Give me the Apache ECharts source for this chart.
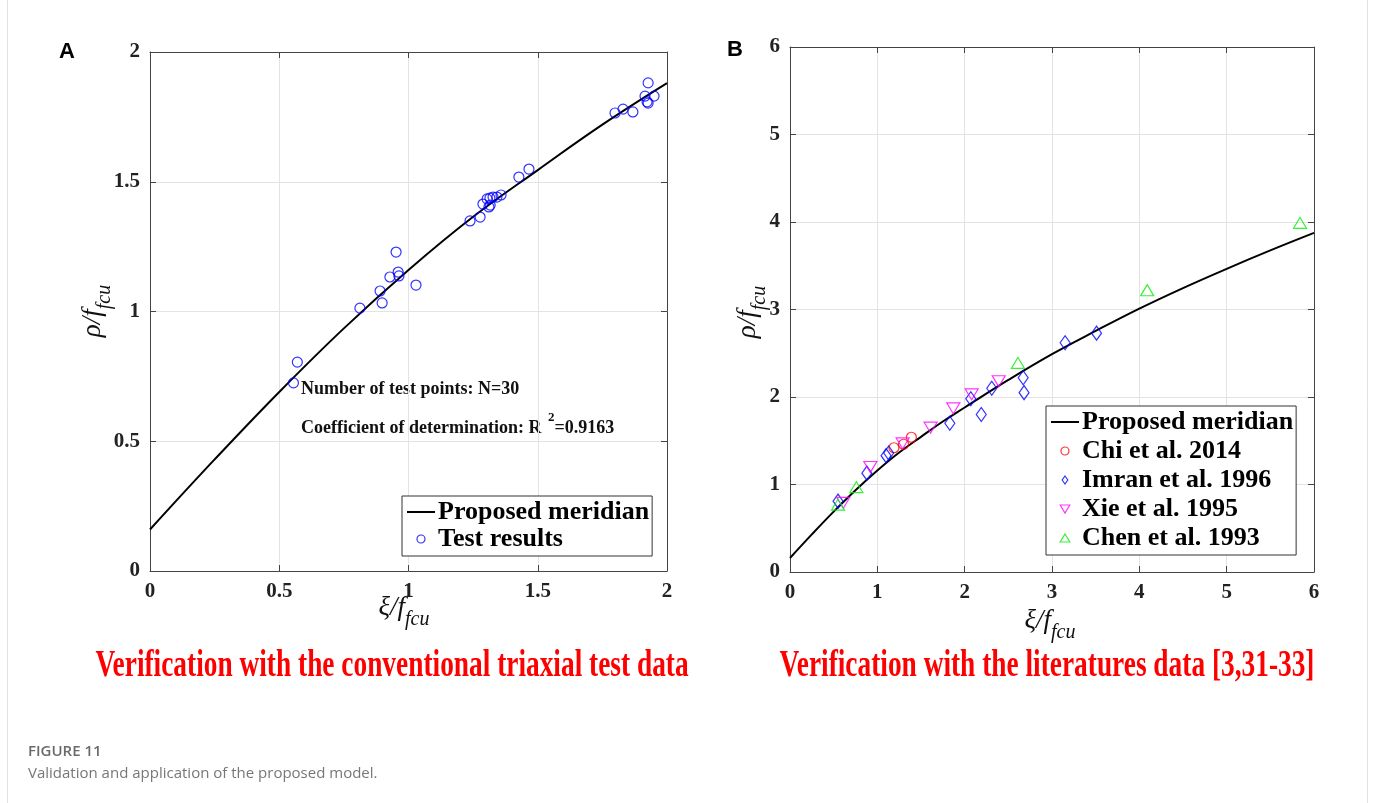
<!DOCTYPE html>
<html>
<head>
<meta charset="utf-8">
<script src="https://cdn.jsdelivr.net/npm/echarts@6/dist/echarts.min.js"></script>
<style>
    html, body { margin: 0; padding: 0; background: #fff; }
    #main { width: 1375px; height: 803px; }
</style>
</head>
<body>
<div id="main"></div>
<script>
    // 拟合子午线
    const meridianX = [0, 0.25, 0.5, 0.75, 1, 1.25, 1.5, 1.75, 2, 2.5, 3, 3.5, 4, 4.5, 5, 5.5, 6];
    const meridianY = [0.16, 0.43, 0.69, 0.935, 1.16, 1.365, 1.545, 1.72, 1.88, 2.195, 2.49, 2.755, 3.01, 3.245, 3.465, 3.675, 3.875];

    // A: 常规三轴试验点
    const testX = [0.555, 0.57, 0.812, 0.890, 0.898, 0.928, 0.952, 0.960, 0.963, 1.029,
        1.238, 1.277, 1.288, 1.304, 1.311, 1.316, 1.315, 1.327, 1.342, 1.358,
        1.427, 1.466, 1.799, 1.830, 1.868, 1.915, 1.923, 1.927, 1.927, 1.950];
    const testY = [0.725, 0.805, 1.013, 1.079, 1.033, 1.133, 1.229, 1.152, 1.137, 1.102,
        1.349, 1.364, 1.414, 1.434, 1.403, 1.410, 1.437, 1.441, 1.441, 1.449,
        1.518, 1.549, 1.765, 1.780, 1.769, 1.830, 1.808, 1.803, 1.881, 1.830];

    // B: 文献数据
    const chiX = [1.19, 1.30, 1.39];
    const chiY = [1.42, 1.46, 1.54];
    const imranX = [0.55, 0.88, 1.10, 1.13, 1.83, 2.07, 2.19, 2.31, 2.67, 2.68, 3.15, 3.51];
    const imranY = [0.81, 1.13, 1.33, 1.36, 1.70, 1.98, 1.80, 2.10, 2.22, 2.05, 2.62, 2.73];
    const xieX = [0.61, 0.92, 1.29, 1.61, 1.87, 2.08, 2.39];
    const xieY = [0.79, 1.20, 1.47, 1.65, 1.87, 2.03, 2.18];
    const chenX = [0.55, 0.76, 2.61, 4.09, 5.84];
    const chenY = [0.77, 0.97, 2.39, 3.22, 3.99];

    const ticksA = [0, 0.5, 1, 1.5, 2];
    const ticksB = [0, 1, 2, 3, 4, 5, 6];

    function pairs(xs, ys, maxX) {
        let out = [];
        for (let i = 0; i < xs.length; i++) {
            if (maxX == null || xs[i] <= maxX) out.push([xs[i], ys[i]]);
        }
        return out;
    }

    const serif = "'Liberation Serif', 'Times New Roman', serif";
    const frameColor = '#444';
    const triDown = 'path://M0,0L12,0L6,10Z';
    const triUp = 'path://M6,0L12,10L0,10Z';
    const diamond = 'path://M5,0L10,7L5,14L0,7Z';
    const lineIcon = 'path://M0,0L28,0L28,2L0,2Z';

    function mainAxis(grid, pos, ticks, showLabel) {
        return {
            type: 'value', gridIndex: grid, position: pos,
            min: ticks[0], max: ticks[ticks.length - 1], interval: ticks[1] - ticks[0],
            axisLine: { show: true, onZero: false, lineStyle: { color: frameColor, width: 1 } },
            axisTick: { show: true, inside: true, length: 6, lineStyle: { color: frameColor } },
            axisLabel: {
                show: showLabel, margin: 10,
                fontFamily: serif, fontWeight: 'bold', fontSize: 21, color: '#222'
            },
            splitLine: { show: showLabel, lineStyle: { color: '#e3e3e3', width: 1 } }
        };
    }

    function openStyle(color) {
        return { color: 'rgba(0,0,0,0)', borderColor: color, borderWidth: 1.2 };
    }

    // 坐标轴名（带下标）
    function axisName(x, y, sym, rot) {
        return {
            type: 'text', x: x, y: y, rotation: rot || 0,
            style: {
                text: '{m|' + sym + '/f}{s|fcu}',
                align: 'center', verticalAlign: 'middle',
                rich: {
                    m: { fontFamily: serif, fontStyle: 'italic', fontSize: 27, lineHeight: 36, fill: '#111', verticalAlign: 'top' },
                    s: { fontFamily: serif, fontStyle: 'italic', fontSize: 20, lineHeight: 20, fill: '#111', verticalAlign: 'bottom' }
                }
            }
        };
    }

    function legendBox(left, top, items, gap) {
        return {
            orient: 'vertical', left: left, top: top,
            data: items,
            backgroundColor: '#fff', borderColor: '#333', borderWidth: 1,
            padding: [3, 3, 4, 5], itemGap: gap, itemWidth: 28, itemHeight: 8,
            itemStyle: { borderWidth: 1.2 },
            textStyle: { fontFamily: serif, fontWeight: 'bold', fontSize: 26, color: '#000', padding: [0, 0, 0, -2] }
        };
    }

    const meridianItem = { name: 'Proposed meridian', icon: lineIcon, itemStyle: { color: '#000', borderWidth: 0 } };

    let dom = document.getElementById('main');
    let myChart = echarts.init(dom);

    let option = {
        backgroundColor: '#fff',
        animation: false,
        grid: [
            { left: 150, top: 52, width: 517, height: 519 },
            { left: 790, top: 47, width: 524, height: 525 }
        ],
        xAxis: [
            mainAxis(0, 'bottom', ticksA, true),
            mainAxis(0, 'top', ticksA, false),
            mainAxis(1, 'bottom', ticksB, true),
            mainAxis(1, 'top', ticksB, false)
        ],
        yAxis: [
            mainAxis(0, 'left', ticksA, true),
            mainAxis(0, 'right', ticksA, false),
            mainAxis(1, 'left', ticksB, true),
            mainAxis(1, 'right', ticksB, false)
        ],
        legend: [
            legendBox(402, 496, [meridianItem, { name: 'Test results', icon: 'circle' }], 1),
            legendBox(1046, 406, [
                meridianItem,
                { name: 'Chi et al. 2014', icon: 'circle' },
                { name: 'Imran et al. 1996', icon: diamond },
                { name: 'Xie et al. 1995', icon: triDown },
                { name: 'Chen et al. 1993', icon: triUp }
            ], 3)
        ],
        series: [{
            name: 'Proposed meridian', type: 'line', xAxisIndex: 0, yAxisIndex: 0,
            smooth: 0.4, symbol: 'none', z: 3,
            itemStyle: { color: '#000' },
            lineStyle: { color: '#000', width: 2 },
            data: pairs(meridianX, meridianY, 2)
        }, {
            name: 'Test results', type: 'scatter', xAxisIndex: 0, yAxisIndex: 0,
            symbol: 'circle', symbolSize: 10, z: 4,
            itemStyle: openStyle('#0000ff'),
            data: pairs(testX, testY)
        }, {
            name: 'Proposed meridian', type: 'line', xAxisIndex: 2, yAxisIndex: 2,
            smooth: 0.4, symbol: 'none', z: 3,
            itemStyle: { color: '#000' },
            lineStyle: { color: '#000', width: 2 },
            data: pairs(meridianX, meridianY)
        }, {
            name: 'Chi et al. 2014', type: 'scatter', xAxisIndex: 2, yAxisIndex: 2,
            symbol: 'circle', symbolSize: 10, z: 4,
            itemStyle: openStyle('#ff0000'),
            data: pairs(chiX, chiY)
        }, {
            name: 'Imran et al. 1996', type: 'scatter', xAxisIndex: 2, yAxisIndex: 2,
            symbol: diamond, symbolSize: [10, 14], z: 4,
            itemStyle: openStyle('#0000ff'),
            data: pairs(imranX, imranY)
        }, {
            name: 'Xie et al. 1995', type: 'scatter', xAxisIndex: 2, yAxisIndex: 2,
            symbol: triDown, symbolSize: [13, 11], z: 4,
            itemStyle: openStyle('#ff00ff'),
            data: pairs(xieX, xieY)
        }, {
            name: 'Chen et al. 1993', type: 'scatter', xAxisIndex: 2, yAxisIndex: 2,
            symbol: triUp, symbolSize: [13, 11], z: 4,
            itemStyle: openStyle('#00ee00'),
            data: pairs(chenX, chenY)
        }],
        graphic: [
            // 卡片边框
            { type: 'line', shape: { x1: 7.5, y1: 0, x2: 7.5, y2: 803 }, style: { stroke: '#e2e2e2', lineWidth: 1 } },
            { type: 'line', shape: { x1: 1367.5, y1: 0, x2: 1367.5, y2: 803 }, style: { stroke: '#e2e2e2', lineWidth: 1 } },
            // 面板字母
            { type: 'text', x: 67, y: 52, style: { text: 'A', font: "bold 22px 'Liberation Sans', Arial, sans-serif", fill: '#000', align: 'center', verticalAlign: 'middle' } },
            { type: 'text', x: 735, y: 50, style: { text: 'B', font: "bold 22px 'Liberation Sans', Arial, sans-serif", fill: '#000', align: 'center', verticalAlign: 'middle' } },
            // 坐标轴名
            axisName(404, 612, 'ξ', 0),
            axisName(1050, 625, 'ξ', 0),
            axisName(97, 311, 'ρ', Math.PI / 2),
            axisName(752, 312, 'ρ', Math.PI / 2),
            // 标注
            { type: 'text', x: 301, y: 389, style: { text: 'Number of test points: N=30', font: 'bold 18px ' + serif, fill: '#111', align: 'left', verticalAlign: 'middle' } },
            {
                type: 'text', x: 301, y: 424,
                style: {
                    text: '{m|Coefficient of determination: R }{p|2}{m|=0.9163}',
                    align: 'left', verticalAlign: 'middle',
                    rich: {
                        m: { font: 'bold 18px ' + serif, fill: '#111', lineHeight: 26, verticalAlign: 'bottom' },
                        p: { font: 'bold 13px ' + serif, fill: '#111', lineHeight: 14, verticalAlign: 'top', padding: [0, 0, 0, 2] }
                    }
                }
            },
            // 红色小标题
            { type: 'text', x: 392, y: 666, scaleX: 0.72, style: { text: 'Verification with the conventional triaxial test data', font: 'bold 38px ' + serif, fill: '#ff0000', align: 'center', verticalAlign: 'middle' } },
            { type: 'text', x: 1047, y: 666, scaleX: 0.72, style: { text: 'Verification with the literatures data [3,31-33]', font: 'bold 38px ' + serif, fill: '#ff0000', align: 'center', verticalAlign: 'middle' } },
            // 图注
            { type: 'text', x: 28, y: 752, style: { text: 'FIGURE 11', font: "600 15px 'Open Sans', 'Noto Sans', sans-serif", fill: '#6a6a6a', align: 'left', verticalAlign: 'middle' } },
            { type: 'text', x: 28, y: 774, style: { text: 'Validation and application of the proposed model.', font: "15px 'Open Sans', 'Noto Sans', sans-serif", fill: '#777', align: 'left', verticalAlign: 'middle' } }
        ]
    };

    myChart.setOption(option, true);
</script>
</body>
</html>
